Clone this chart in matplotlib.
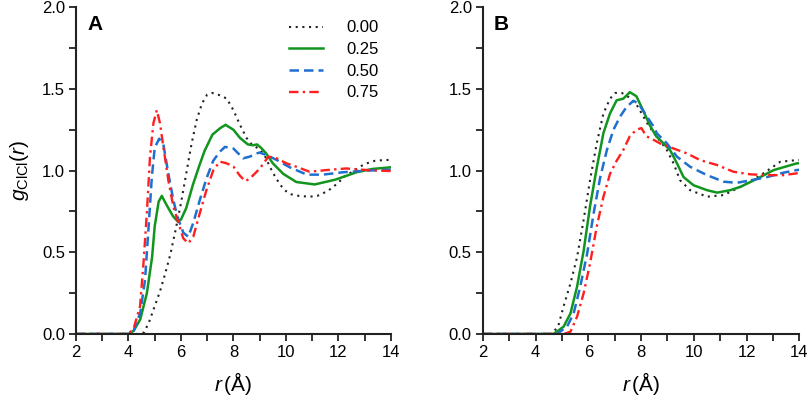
import matplotlib
matplotlib.use("Agg")
from matplotlib import pyplot as plt
from matplotlib.ticker import MultipleLocator

plt.rcParams["font.family"] = ["Liberation Sans", "DejaVu Sans"]
plt.rcParams["mathtext.fontset"] = "custom"
plt.rcParams["mathtext.rm"] = "Liberation Sans"
plt.rcParams["mathtext.it"] = "Liberation Sans:italic"

labels = ["0.00", "0.25", "0.50", "0.75"]

# panel A
r_a_000 = [2.0, 4.4, 4.6, 4.8, 5.0, 5.2, 5.4, 5.6, 5.8, 6.0, 6.2, 6.4, 6.6, 6.8, 7.0, 7.2, 7.5,
           7.75, 8.0, 8.25, 8.5, 8.7, 9.0, 9.2, 9.4, 9.6, 9.8, 10.0, 10.2, 10.5, 10.9, 11.2,
           11.6, 12.0, 12.2, 12.6, 13.0, 13.4, 13.8, 14.0]
g_a_000 = [0, 0, 0.01, 0.08, 0.17, 0.26, 0.37, 0.49, 0.64, 0.80, 0.98, 1.16, 1.31, 1.41, 1.465,
           1.475, 1.46, 1.44, 1.37, 1.28, 1.20, 1.16, 1.13, 1.09, 1.02, 0.96, 0.91, 0.875, 0.855,
           0.845, 0.84, 0.845, 0.875, 0.925, 0.96, 1.0, 1.04, 1.06, 1.065, 1.065]
r_a_025 = [2.0, 4.0, 4.2, 4.45, 4.7, 4.9, 5.0, 5.15, 5.27, 5.45, 5.7, 5.87, 6.0, 6.2, 6.45, 6.7,
           6.9, 7.2, 7.5, 7.7, 8.0, 8.25, 8.55, 8.75, 8.9, 9.05, 9.25, 9.5, 9.9, 10.4, 11.1,
           11.9, 12.7, 13.3, 14.0]
g_a_025 = [0, 0, 0.02, 0.09, 0.25, 0.47, 0.66, 0.81, 0.845, 0.79, 0.72, 0.69, 0.70, 0.77, 0.91,
           1.03, 1.12, 1.22, 1.26, 1.28, 1.25, 1.20, 1.16, 1.155, 1.16, 1.14, 1.105, 1.045, 0.98,
           0.93, 0.915, 0.945, 0.99, 1.01, 1.02]
r_a_050 = [2.0, 4.05, 4.2, 4.45, 4.63, 4.76, 4.89, 5.0, 5.17, 5.33, 5.52, 5.71, 5.86, 6.09, 6.28,
           6.47, 6.72, 6.97, 7.23, 7.48, 7.68, 8.0, 8.37, 8.62, 8.88, 9.0, 9.27, 9.65, 10.15,
           10.8, 11.4, 12.2, 13.1, 14.0]
g_a_050 = [0, 0, 0.02, 0.13, 0.33, 0.64, 0.96, 1.14, 1.195, 1.16, 0.98, 0.82, 0.72, 0.62, 0.595,
           0.68, 0.82, 0.95, 1.06, 1.115, 1.145, 1.135, 1.075, 1.085, 1.105, 1.11, 1.095, 1.065,
           1.02, 0.975, 0.975, 0.99, 1.0, 1.005]
r_a_075 = [2.0, 4.0, 4.2, 4.44, 4.57, 4.7, 4.82, 4.95, 5.08, 5.2, 5.33, 5.52, 5.71, 5.9, 6.09,
           6.28, 6.47, 6.72, 6.97, 7.23, 7.48, 7.73, 8.0, 8.24, 8.45, 8.62, 8.87, 9.01, 9.33,
           9.65, 10.03, 10.41, 10.9, 11.55, 12.3, 13.1, 14.0]
g_a_075 = [0, 0, 0.035, 0.17, 0.43, 0.74, 1.085, 1.29, 1.37, 1.29, 1.145, 0.94, 0.78, 0.68, 0.585,
           0.555, 0.595, 0.74, 0.88, 1.0, 1.055, 1.045, 1.025, 0.97, 0.935, 0.95, 0.99, 1.013,
           1.085, 1.075, 1.044, 1.023, 0.993, 1.003, 1.013, 1.003, 0.997]

# panel B
r_b_000 = [2.0, 4.6, 4.85, 5.06, 5.32, 5.57, 5.82, 6.06, 6.32, 6.57, 6.82, 7.02, 7.27, 7.52, 7.84,
           8.09, 8.3, 8.6, 8.98, 9.23, 9.48, 9.86, 10.5, 11.13, 11.76, 12.52, 13.28, 13.9, 14.0]
g_b_000 = [0, 0, 0.045, 0.17, 0.31, 0.47, 0.70, 0.94, 1.17, 1.35, 1.44, 1.475, 1.475, 1.45, 1.40,
           1.33, 1.27, 1.207, 1.125, 1.044, 0.94, 0.88, 0.84, 0.85, 0.90, 0.97, 1.054, 1.064, 1.064]
r_b_025 = [2.0, 4.68, 5.06, 5.32, 5.57, 5.82, 6.06, 6.32, 6.57, 6.82, 7.07, 7.32, 7.45, 7.57, 7.82,
           8.07, 8.32, 8.57, 8.72, 9.1, 9.36, 9.61, 9.99, 10.5, 10.88, 11.38, 11.76, 12.4, 13.03,
           13.9, 14.0]
g_b_025 = [0, 0, 0.045, 0.126, 0.29, 0.51, 0.78, 1.02, 1.23, 1.35, 1.43, 1.44, 1.46, 1.48, 1.455,
           1.37, 1.28, 1.21, 1.187, 1.125, 1.044, 0.96, 0.91, 0.88, 0.865, 0.88, 0.90, 0.95, 1.003,
           1.044, 1.045]
r_b_050 = [2.0, 4.81, 5.19, 5.44, 5.69, 5.95, 6.2, 6.45, 6.7, 6.95, 7.2, 7.45, 7.71, 7.9, 8.22,
           8.47, 8.6, 8.98, 9.36, 9.86, 10.5, 11.13, 11.63, 12.14, 12.77, 13.4, 13.9, 14.0]
g_b_050 = [0, 0, 0.045, 0.126, 0.29, 0.49, 0.74, 0.96, 1.125, 1.25, 1.33, 1.39, 1.427, 1.41, 1.33,
           1.27, 1.227, 1.166, 1.085, 1.023, 0.972, 0.932, 0.925, 0.94, 0.96, 0.987, 1.003, 1.005]
r_b_075 = [2.0, 5.06, 5.32, 5.57, 5.82, 6.06, 6.32, 6.57, 6.82, 7.07, 7.32, 7.57, 7.82, 8.01, 8.2,
           8.45, 8.72, 9.23, 9.74, 10.24, 10.88, 11.5, 12.14, 12.77, 13.4, 13.9, 14.0]
g_b_075 = [0, 0, 0.014, 0.106, 0.25, 0.43, 0.66, 0.84, 0.98, 1.06, 1.125, 1.21, 1.25, 1.26, 1.21,
           1.19, 1.166, 1.135, 1.105, 1.064, 1.034, 0.993, 0.977, 0.972, 0.972, 0.983, 0.983]

styles = [
    dict(color="#222222", linestyle=(0, (1, 2.2)), linewidth=1.5),
    dict(color="#12951f", linestyle="-", linewidth=1.8),
    dict(color="#1f6fd0", linestyle=(0, (3.8, 2.0)), linewidth=1.8),
    dict(color="#ff1f1f", linestyle=(0, (4, 1.8, 1, 1.8)), linewidth=1.7),
]

fig = plt.figure(figsize=(8.09, 3.99), dpi=100)
ax_a = fig.add_axes([0.094, 0.163, 0.389, 0.819])
ax_b = fig.add_axes([0.597, 0.163, 0.391, 0.819])

panels = [
    (ax_a, "A", [(r_a_000, g_a_000), (r_a_025, g_a_025), (r_a_050, g_a_050), (r_a_075, g_a_075)]),
    (ax_b, "B", [(r_b_000, g_b_000), (r_b_025, g_b_025), (r_b_050, g_b_050), (r_b_075, g_b_075)]),
]

for ax, letter, series in panels:
    for (r, g), st, lab in zip(series, styles, labels):
        ax.plot(r, g, label=lab, **st)
    ax.set_xlim(2, 14)
    ax.set_ylim(0, 2.0)
    ax.xaxis.set_major_locator(MultipleLocator(2))
    ax.xaxis.set_minor_locator(MultipleLocator(1))
    ax.yaxis.set_major_locator(MultipleLocator(0.5))
    ax.yaxis.set_minor_locator(MultipleLocator(0.25))
    ax.yaxis.set_major_formatter(matplotlib.ticker.FormatStrFormatter("%.1f"))
    ax.tick_params(which="both", direction="out", length=5, width=1.3, labelsize=12,
                   color="#222222", pad=3)
    ax.spines["top"].set_visible(False)
    ax.spines["right"].set_visible(False)
    for s in ("left", "bottom"):
        ax.spines[s].set_linewidth(1.5)
        ax.spines[s].set_color("#222222")
    ax.set_xlabel(r"$r\,$(Å)", fontsize=15, labelpad=7)
    ax.text(0.035, 0.975, letter, transform=ax.transAxes, fontsize=15, fontweight="bold",
            va="top", ha="left")

ax_a.set_ylabel(r"$g_{\rm ClCl}(r)$", fontsize=15, labelpad=8)
ax_a.legend(loc="upper right", frameon=False, fontsize=12, handlelength=2.0,
            handletextpad=1.45, labelspacing=0.4, borderaxespad=0.2,
            bbox_to_anchor=(0.995, 0.99))

fig.savefig("out.png", dpi=100)
